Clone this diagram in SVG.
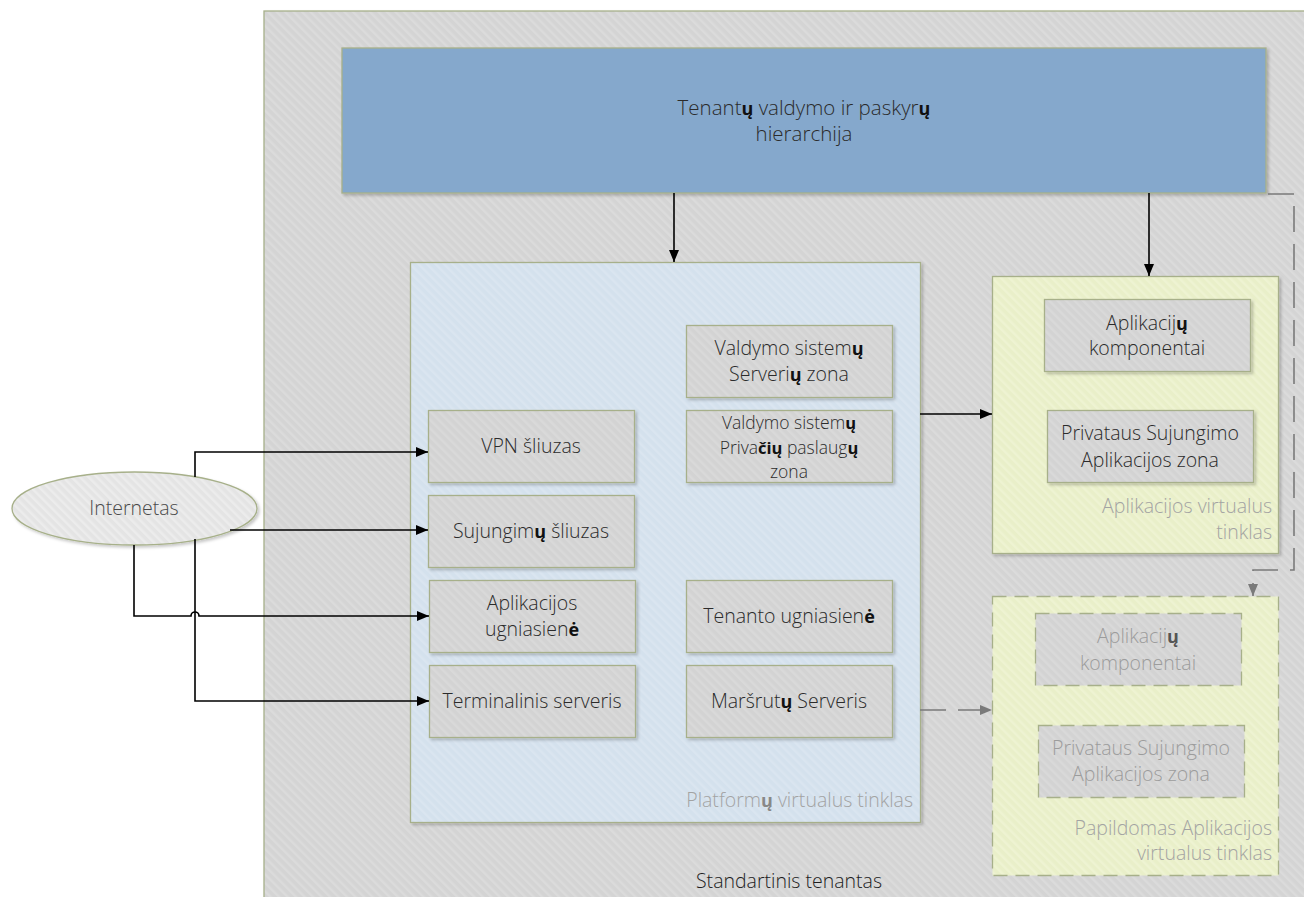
<svg xmlns="http://www.w3.org/2000/svg" width="1304" height="897" viewBox="0 0 1304 897">
  <style>
    text { font-family: "Open Sans", "Noto Sans", "DejaVu Sans", sans-serif; font-weight: 300; font-size: 19.5px; fill: #2b2b2b; text-anchor: middle; }
    .b { font-weight: 700; fill: #111; font-size: 18px; }
    .tight { font-size: 17.5px; }
    .tight .b { font-size: 16.5px; }
    .lbl { fill: #a3a3a3; text-anchor: end; }
    .ghost { fill: #9c9c9c; }
    .frame { stroke: #a7b08a; stroke-width: 1.3; }
    .box { fill: url(#pGray); stroke: #a7b08a; stroke-width: 1.3; filter: url(#shadow); }
    .dbox { fill: url(#pGray); stroke: #a7b08a; stroke-width: 1.3; stroke-dasharray: 14 8; }
    .wire { fill: none; stroke: #000; stroke-width: 1.6; }
    .dwire { fill: none; stroke: #7a7a7a; stroke-width: 1.6; stroke-dasharray: 26 12; }
  </style>
  <defs>
    <filter id="shadow" x="-10%" y="-10%" width="130%" height="130%">
      <feDropShadow dx="2" dy="2" stdDeviation="1.8" flood-color="#000" flood-opacity="0.22"/>
    </filter>
    <pattern id="pBack" width="6" height="6" patternUnits="userSpaceOnUse" patternTransform="rotate(-45)">
      <rect width="6" height="6" fill="#d4d4d4"/>
      <rect width="2.5" height="6" fill="#dbdbdb"/>
    </pattern>
    <pattern id="pGray" width="6" height="6" patternUnits="userSpaceOnUse" patternTransform="rotate(-45)">
      <rect width="6" height="6" fill="#d3d3d3"/>
      <rect width="2.5" height="6" fill="#d9d9d9"/>
    </pattern>
    <pattern id="pPlat" width="6" height="6" patternUnits="userSpaceOnUse" patternTransform="rotate(-45)">
      <rect width="6" height="6" fill="#d4e1ed"/>
      <rect width="2.5" height="6" fill="#dae5f0"/>
    </pattern>
    <pattern id="pApp" width="6" height="6" patternUnits="userSpaceOnUse" patternTransform="rotate(-45)">
      <rect width="6" height="6" fill="#e9efc9"/>
      <rect width="2.5" height="6" fill="#eef3d2"/>
    </pattern>
    <pattern id="pNet" width="6" height="6" patternUnits="userSpaceOnUse" patternTransform="rotate(-45)">
      <rect width="6" height="6" fill="#e4e4e4"/>
      <rect width="2.5" height="6" fill="#ececec"/>
    </pattern>
    <marker id="arr" viewBox="0 0 12 10" refX="12" refY="5" markerWidth="12" markerHeight="10" markerUnits="userSpaceOnUse" orient="auto">
      <path d="M0,0 L12,5 L0,10 z" fill="#000"/>
    </marker>
    <marker id="arrG" viewBox="0 0 12 10" refX="12" refY="5" markerWidth="12" markerHeight="10" markerUnits="userSpaceOnUse" orient="auto">
      <path d="M0,0 L12,5 L0,10 z" fill="#7a7a7a"/>
    </marker>
  </defs>

  <!-- tenant container -->
  <g id="tenant">
    <rect x="264" y="11" width="1060" height="900" fill="url(#pBack)" class="frame" filter="url(#shadow)"/>
    <text x="789" y="888" style="fill:#1e1e1e">Standartinis tenantas</text>
  </g>

  <!-- account hierarchy -->
  <g id="hierarchy">
    <rect x="342" y="48" width="924" height="145" fill="#85a8cc" class="frame" filter="url(#shadow)"/>
    <text x="804" y="115" style="font-size:20.5px">Tenant<tspan class="b">ų</tspan> valdymo ir paskyr<tspan class="b">ų</tspan></text>
    <text x="804" y="141" style="font-size:20.5px">hierarchija</text>
  </g>

  <!-- platform network -->
  <g id="platform">
    <rect x="410.5" y="262.5" width="510" height="560" fill="url(#pPlat)" class="frame" filter="url(#shadow)"/>
    <text class="lbl" x="913" y="807">Platform<tspan class="b" style="fill:#888">ų</tspan> virtualus tinklas</text>
  </g>

  <g id="vpn">
    <rect class="box" x="428.5" y="410.5" width="206" height="72"/>
    <text x="531" y="453">VPN šliuzas</text>
  </g>
  <g id="connGateway">
    <rect class="box" x="428.5" y="495.5" width="206" height="72"/>
    <text x="531" y="538">Sujungim<tspan class="b">ų</tspan> šliuzas</text>
  </g>
  <g id="appFirewall">
    <rect class="box" x="429.5" y="580.5" width="206" height="72"/>
    <text x="532" y="610">Aplikacijos</text>
    <text x="532" y="636">ugniasien<tspan class="b">ė</tspan></text>
  </g>
  <g id="terminal">
    <rect class="box" x="429.5" y="665.5" width="206" height="72"/>
    <text x="532" y="708">Terminalinis serveris</text>
  </g>

  <g id="mgmtServers">
    <rect class="box" x="686.5" y="325.5" width="206" height="72"/>
    <text x="789" y="355">Valdymo sistem<tspan class="b">ų</tspan></text>
    <text x="789" y="381">Serveri<tspan class="b">ų</tspan> zona</text>
  </g>
  <g id="mgmtPrivate">
    <rect class="box" x="686.5" y="410.5" width="206" height="72"/>
    <text class="tight" x="789" y="429">Valdymo sistem<tspan class="b">ų</tspan></text>
    <text class="tight" x="789" y="453.5">Priva<tspan class="b">čių</tspan> paslaug<tspan class="b">ų</tspan></text>
    <text class="tight" x="789" y="478">zona</text>
  </g>
  <g id="tenantFirewall">
    <rect class="box" x="686.5" y="580.5" width="206" height="72"/>
    <text x="789" y="623">Tenanto ugniasien<tspan class="b">ė</tspan></text>
  </g>
  <g id="routeServer">
    <rect class="box" x="686.5" y="665.5" width="206" height="72"/>
    <text x="789" y="708">Maršrut<tspan class="b">ų</tspan> Serveris</text>
  </g>

  <!-- application network -->
  <g id="appNet">
    <rect x="992.5" y="276.5" width="286" height="277" fill="url(#pApp)" class="frame" filter="url(#shadow)"/>
    <text class="lbl" x="1272" y="513">Aplikacijos virtualus</text>
    <text class="lbl" x="1272" y="539">tinklas</text>
  </g>
  <g id="appComponents">
    <rect class="box" x="1044.5" y="299.5" width="206" height="72"/>
    <text x="1147" y="330">Aplikacij<tspan class="b">ų</tspan></text>
    <text x="1147" y="355">komponentai</text>
  </g>
  <g id="appPrivate">
    <rect class="box" x="1047.5" y="410.5" width="206" height="72"/>
    <text x="1150" y="440">Privataus Sujungimo</text>
    <text x="1150" y="467">Aplikacijos zona</text>
  </g>

  <!-- additional application network (optional) -->
  <g id="extraNet">
    <rect x="992.5" y="596.5" width="286" height="279" fill="url(#pApp)" class="frame" stroke-dasharray="14 8"/>
    <text class="lbl" x="1272" y="835">Papildomas Aplikacijos</text>
    <text class="lbl" x="1272" y="860">virtualus tinklas</text>
  </g>
  <g id="extraComponents">
    <rect class="dbox" x="1035.5" y="613.5" width="206" height="72"/>
    <text class="ghost" x="1138" y="643">Aplikacij<tspan class="b" style="fill:#555">ų</tspan></text>
    <text class="ghost" x="1138" y="670">komponentai</text>
  </g>
  <g id="extraPrivate">
    <rect class="dbox" x="1038.5" y="725.5" width="206" height="72"/>
    <text class="ghost" x="1141" y="755">Privataus Sujungimo</text>
    <text class="ghost" x="1141" y="781">Aplikacijos zona</text>
  </g>

  <!-- internet -->
  <g id="internet">
    <ellipse cx="134.5" cy="508.5" rx="122.5" ry="36.5" fill="url(#pNet)" stroke="#a7b08a" stroke-width="1.3" filter="url(#shadow)"/>
    <text x="134" y="515" style="fill:#4a4a4a">Internetas</text>
  </g>

  <!-- connectors -->
  <g id="connectors">
    <path class="wire" d="M674,193 V262" marker-end="url(#arr)"/>
    <path class="wire" d="M1149,193 V276" marker-end="url(#arr)"/>
    <path class="wire" d="M920,414 H992" marker-end="url(#arr)"/>
    <path class="wire" d="M195,477 V452 H428" marker-end="url(#arr)"/>
    <path class="wire" d="M230,530 H428" marker-end="url(#arr)"/>
    <path class="wire" d="M134,545 V616 H191 A4,4 0 0 1 199,616 H429" marker-end="url(#arr)"/>
    <path class="wire" d="M195,539 V701 H429" marker-end="url(#arr)"/>
    <path class="dwire" d="M920,710 H992" marker-end="url(#arrG)"/>
    <path class="dwire" d="M1268,194 H1294 V570 H1253 V596" marker-end="url(#arrG)"/>
  </g>
</svg>
